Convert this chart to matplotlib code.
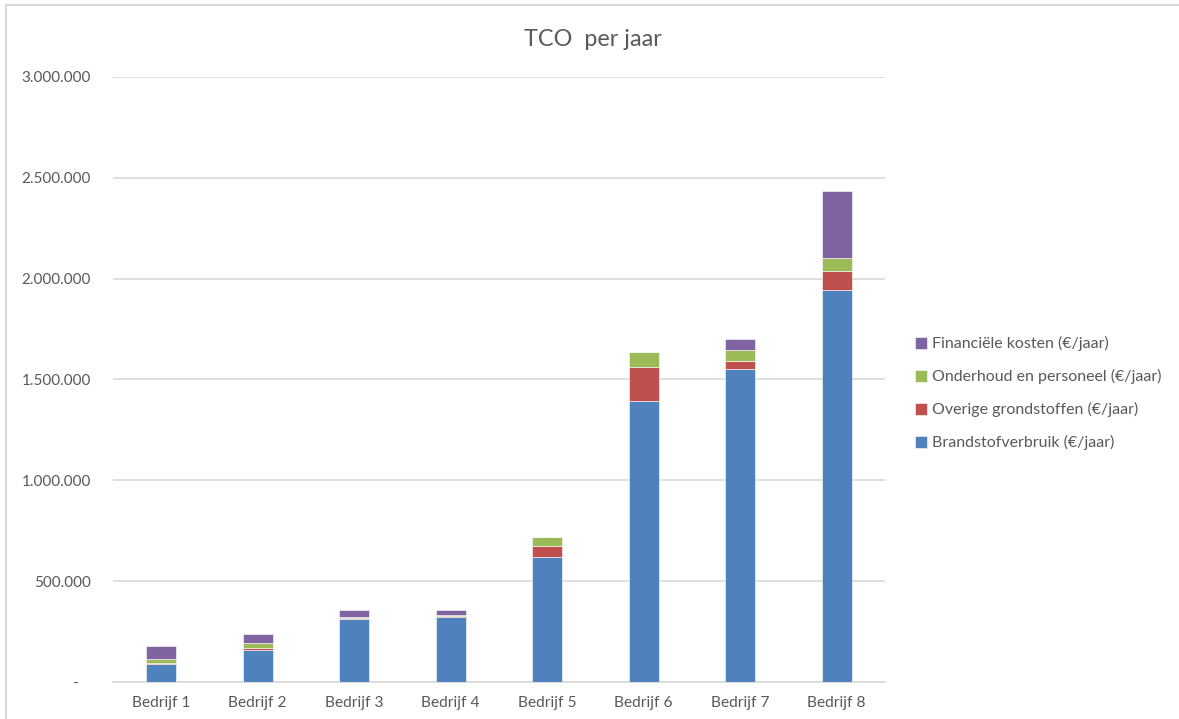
import numpy as np
import matplotlib
matplotlib.use("Agg")
from matplotlib import pyplot as plt
from matplotlib.patches import Rectangle
from matplotlib.ticker import FuncFormatter

# --- data (EUR per year)
bedrijven = ["Bedrijf 1", "Bedrijf 2", "Bedrijf 3", "Bedrijf 4",
             "Bedrijf 5", "Bedrijf 6", "Bedrijf 7", "Bedrijf 8"]
brandstof = [89000, 160000, 312000, 320000, 620000, 1395000, 1550000, 1942000]
grondstoffen = [3000, 10000, 7000, 6000, 56000, 167000, 43000, 97000]
onderhoud = [23000, 22000, 4000, 6000, 41000, 74000, 52000, 64000]
financieel = [64000, 48000, 32000, 23000, 0, 0, 56000, 331000]

series = [
    ("Brandstofverbruik (€/jaar)", brandstof, "#4F81BD"),
    ("Overige grondstoffen (€/jaar)", grondstoffen, "#C0504D"),
    ("Onderhoud en personeel (€/jaar)", onderhoud, "#9BBB59"),
    ("Financiële kosten (€/jaar)", financieel, "#8064A2"),
]

plt.rcParams["font.family"] = ["Lato", "DejaVu Sans"]
txt = "#595959"
grid = "#D9D9D9"

fig = plt.figure(figsize=(11.79, 7.19), dpi=100)
ax = fig.add_axes([0.0958, 0.0515, 0.6548, 0.8415])

x = np.arange(len(bedrijven))
bottom = np.zeros(len(bedrijven))
handles = []
for label, vals, color in series:
    vals = np.array(vals, dtype=float)
    h = ax.bar(x, vals, width=0.31, bottom=bottom, color=color,
               edgecolor="white", linewidth=0.4, label=label, zorder=3)
    handles.append(h)
    bottom += vals

ax.set_xlim(-0.5, len(bedrijven) - 0.5)
ax.set_ylim(0, 3000000)
ax.set_yticks(np.arange(0, 3000001, 500000))
ax.yaxis.set_major_formatter(FuncFormatter(
    lambda v, p: "-   " if v == 0 else f"{int(v):,}".replace(",", ".")))
ax.set_xticks(x)
ax.set_xticklabels(bedrijven)

ax.grid(axis="y", color=grid, linewidth=1.2, zorder=0)
for side in ("top", "right", "left"):
    ax.spines[side].set_visible(False)
ax.spines["bottom"].set_color(grid)
ax.spines["bottom"].set_linewidth(1.2)
ax.tick_params(axis="y", length=0, pad=16, labelsize=11, labelcolor=txt)
ax.tick_params(axis="x", length=0, pad=10, labelsize=11.2, labelcolor=txt)

fig.text(0.503, 0.945, "TCO  per jaar", ha="center", va="center",
         fontsize=16.8, color=txt)

leg = fig.legend(handles[::-1], [s[0] for s in series][::-1],
                 loc="center left", bbox_to_anchor=(0.7695, 0.453),
                 frameon=False, fontsize=11.5, labelcolor=txt,
                 handlelength=0.75, handleheight=0.75, handletextpad=0.3,
                 labelspacing=1.12, borderpad=0)

# chart area border
fig.add_artist(Rectangle((6 / 1179, -0.01), 1.2, 1 - 5 / 719 + 0.01,
                         transform=fig.transFigure, fill=False,
                         edgecolor=grid, linewidth=1.5))

fig.savefig("out.png", dpi=100)
